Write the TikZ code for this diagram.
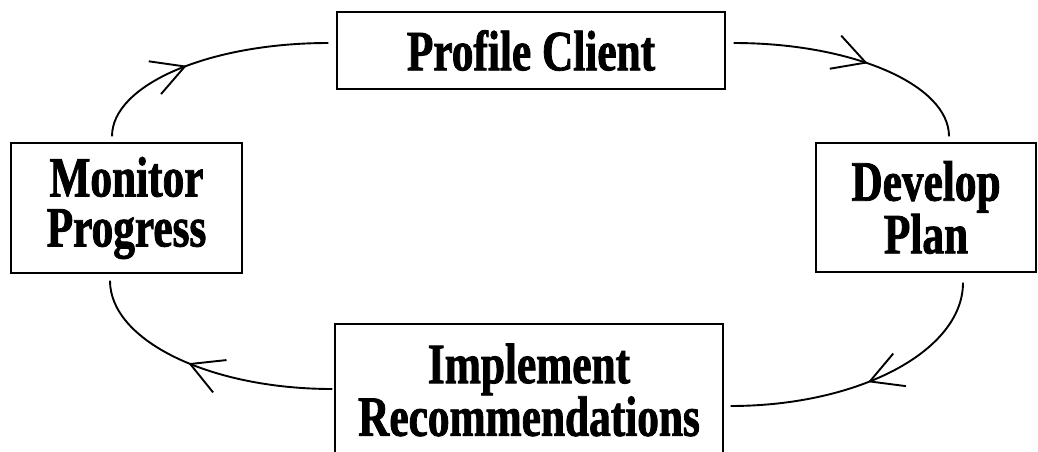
\documentclass[tikz,border=0pt]{standalone}
\usepackage{fontspec}
\setmainfont{Liberation Serif}
\newfontfamily\lbl[FakeStretch=0.76,FakeBold=1.4]{Liberation Serif}
\usetikzlibrary{arrows.meta,calc,decorations.markings}
\begin{document}
\begin{tikzpicture}[x=1pt,y=-1pt,
  box/.style={draw, line width=1.4pt, inner sep=0pt, align=center,
    font=\lbl\bfseries\fontsize{57}{50}\selectfont},
  link/.style={line width=1.9pt, postaction={decorate},
    decoration={markings, mark=at position #1 with {\arrow{Straight Barb[length=32pt,width=35pt]}}}}]
\clip (0,0) rectangle (1038,452);
\node[box, minimum width=388pt, minimum height=77pt] (profile) at (531,50.5) {\raisebox{-3pt}{Profile Client}};
\node[box, minimum width=231pt, minimum height=130pt] (monitor) at (126.5,208) {\raisebox{-5pt}{Monitor}\\\raisebox{-5pt}{Progress}};
\node[box, minimum width=220pt, minimum height=129pt] (develop) at (926,207.5) {\raisebox{-5pt}{Develop}\\\raisebox{-5pt}{Plan}};
\node[box, minimum width=388pt, minimum height=132pt] (implement) at (529,390) {\raisebox{-2pt}{Implement}\\\raisebox{-2pt}{Recommendations}};
% connector end points
\coordinate (a1) at ([xshift=-14.5pt,yshift=6pt]monitor.north);
\coordinate (b1) at ([xshift=-8pt,yshift=7.5pt]profile.west);
\coordinate (a2) at ([xshift=8pt,yshift=7.5pt]profile.east);
\coordinate (b2) at ([xshift=23pt,yshift=6pt]develop.north);
\coordinate (a3) at ([xshift=37pt,yshift=-10pt]develop.south);
\coordinate (b3) at ([xshift=7pt,yshift=-16pt]implement.east);
\coordinate (a4) at ([xshift=-2pt,yshift=1pt]implement.west);
\coordinate (b4) at ([xshift=-16.5pt,yshift=-7pt]monitor.south);
% quarter-ellipse connectors
\draw[link=0.43] (a1) .. controls ($(a1)!0.552!(a1 |- b1)$) and ($(b1)!0.552!(a1 |- b1)$) .. (b1);
\draw[link=0.54] (a2) .. controls ($(a2)!0.552!(b2 |- a2)$) and ($(b2)!0.552!(b2 |- a2)$) .. (b2);
\draw[link=0.51] (a3) .. controls ($(a3)!0.552!(a3 |- b3)$) and ($(b3)!0.552!(a3 |- b3)$) .. (b3);
\draw[link=0.55] (a4) .. controls ($(a4)!0.552!(b4 |- a4)$) and ($(b4)!0.552!(b4 |- a4)$) .. (b4);
\end{tikzpicture}
\end{document}
